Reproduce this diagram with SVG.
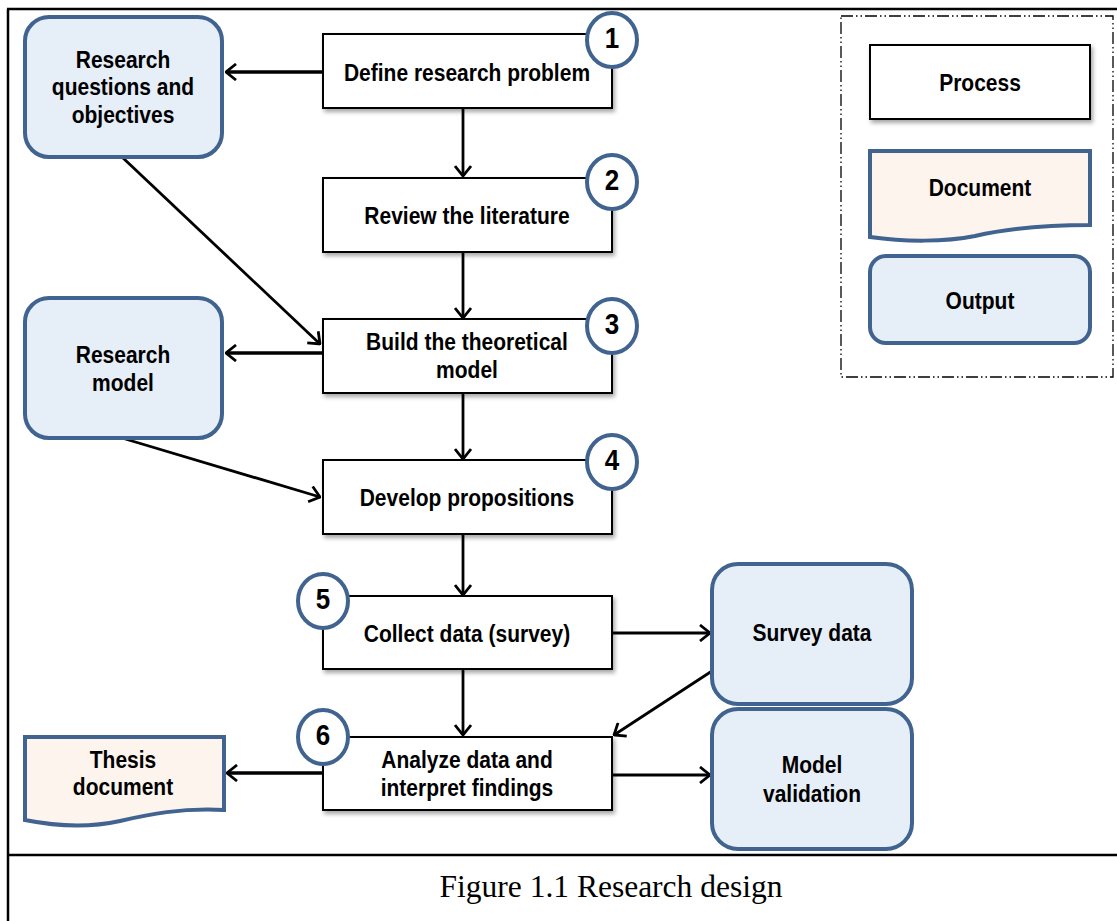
<svg xmlns="http://www.w3.org/2000/svg" width="1117" height="921" viewBox="0 0 1117 921">
<style>
.t{font-family:"Liberation Sans",Arial,sans-serif;font-weight:bold;font-size:21px;fill:#000;text-anchor:middle;transform-box:fill-box;transform-origin:50% 80%;transform:scaleY(1.12)}
.n{font-family:"Liberation Sans",Arial,sans-serif;font-weight:bold;font-size:26px;fill:#000;text-anchor:middle;transform-box:fill-box;transform-origin:50% 100%;transform:scaleY(1.12)}
.proc{fill:#fff;stroke:#000;stroke-width:2}
.out{fill:#e6eef8;stroke:#41638f;stroke-width:4}
.doc{fill:#fdf4ee;stroke:#41638f;stroke-width:4}
.num{fill:#fff;stroke:#41638f;stroke-width:4}
.c{fill:none;stroke:#000;stroke-width:2.8;marker-end:url(#ah)}
.h{stroke-width:3.5}
</style>
<defs>
<marker id="ah" markerUnits="userSpaceOnUse" viewBox="0 0 12 18" refX="11" refY="9" markerWidth="12" markerHeight="18" orient="auto">
<path d="M1,1 L11,9 L1,17" fill="none" stroke="#000" stroke-width="2.8"/>
</marker>
<filter id="sh" x="-5%" y="-10%" width="115%" height="130%">
<feDropShadow dx="2" dy="3" stdDeviation="2" flood-color="#000" flood-opacity="0.35"/>
</filter>
</defs>
<rect width="1117" height="921" fill="#fff"/>
<g id="frame" stroke="#000" stroke-width="2.5" fill="none">
<line x1="7" y1="9" x2="1117" y2="9"/>
<line x1="8" y1="9" x2="8" y2="921"/>
<line x1="8" y1="855" x2="1117" y2="855"/>
</g>
<g id="connectors">
<path class="c h" d="M322,72 H226"/>
<path class="c" d="M463,108 V176"/>
<path class="c" d="M463,252 V318"/>
<path class="c" d="M122,157 L320,344"/>
<path class="c h" d="M322,353 H226"/>
<path class="c" d="M463,393 V459"/>
<path class="c" d="M122,438 L320,497"/>
<path class="c" d="M463,534 V595"/>
<path class="c" d="M612,633 H710"/>
<path class="c" d="M463,669 V735"/>
<path class="c" d="M712,671 L614,735"/>
<path class="c h" d="M322,773 H227"/>
<path class="c" d="M612,775 H710"/>
</g>
<g id="rq">
<rect class="out" x="25" y="17" width="197" height="140" rx="24"/>
<text class="t" x="123" y="68">Research</text>
<text class="t" x="123" y="95">questions and</text>
<text class="t" x="123" y="123">objectives</text>
</g>
<g id="p1">
<rect class="proc" filter="url(#sh)" x="323" y="34" width="289" height="74"/>
<text class="t" x="467" y="81">Define research problem</text>
<ellipse class="num" cx="612" cy="40" rx="25" ry="27"/>
<text class="n" x="612" y="49">1</text>
</g>
<g id="p2">
<rect class="proc" filter="url(#sh)" x="323" y="178" width="289" height="74"/>
<text class="t" x="467" y="224">Review the literature</text>
<ellipse class="num" cx="612" cy="182" rx="25" ry="27"/>
<text class="n" x="612" y="191">2</text>
</g>
<g id="p3">
<rect class="proc" filter="url(#sh)" x="323" y="319" width="289" height="74"/>
<text class="t" x="467" y="350">Build the theoretical</text>
<text class="t" x="467" y="378">model</text>
<ellipse class="num" cx="612" cy="326" rx="25" ry="27"/>
<text class="n" x="612" y="335">3</text>
</g>
<g id="rm">
<rect class="out" x="25" y="298" width="197" height="140" rx="24"/>
<text class="t" x="123" y="363">Research</text>
<text class="t" x="123" y="391">model</text>
</g>
<g id="p4">
<rect class="proc" filter="url(#sh)" x="323" y="460" width="289" height="74"/>
<text class="t" x="467" y="506">Develop propositions</text>
<ellipse class="num" cx="612" cy="462" rx="25" ry="27"/>
<text class="n" x="612" y="471">4</text>
</g>
<g id="p5">
<rect class="proc" filter="url(#sh)" x="323" y="596" width="289" height="73"/>
<text class="t" x="467" y="642">Collect data (survey)</text>
<ellipse class="num" cx="323" cy="601" rx="25" ry="27"/>
<text class="n" x="323" y="610">5</text>
</g>
<g id="p6">
<rect class="proc" filter="url(#sh)" x="323" y="737" width="289" height="73"/>
<text class="t" x="467" y="768">Analyze data and</text>
<text class="t" x="467" y="796">interpret findings</text>
<ellipse class="num" cx="323" cy="737" rx="25" ry="27"/>
<text class="n" x="323" y="746">6</text>
</g>
<g id="survey">
<rect class="out" x="712" y="564" width="200" height="140" rx="26"/>
<text class="t" x="812" y="641">Survey data</text>
</g>
<g id="validation">
<rect class="out" x="712" y="709" width="200" height="140" rx="26"/>
<text class="t" x="812" y="773">Model</text>
<text class="t" x="812" y="802">validation</text>
</g>
<g id="thesis">
<path class="doc" d="M25,737 H224 V810 C180,808 150,814 120,821 C88,828 55,826 25,820 Z"/>
<text class="t" x="123" y="768">Thesis</text>
<text class="t" x="123" y="795">document</text>
</g>
<g id="legend">
<rect x="841" y="16" width="272" height="361" fill="none" stroke="#000" stroke-width="1.3" stroke-dasharray="12 3 1.5 3 1.5 3"/>
<rect class="proc" filter="url(#sh)" x="870" y="45" width="220" height="74"/>
<text class="t" x="980" y="91">Process</text>
<path class="doc" d="M870,151 H1090 V225 C1050,225 1010,228 975,236 C945,242 905,242 870,237 Z"/>
<text class="t" x="980" y="196">Document</text>
<rect class="out" x="870" y="256" width="220" height="87" rx="16"/>
<text class="t" x="980" y="309">Output</text>
</g>
<text id="caption" x="611" y="897" font-family="'Liberation Serif','Times New Roman',serif" font-size="31.5" text-anchor="middle">Figure 1.1 Research design</text>
</svg>
